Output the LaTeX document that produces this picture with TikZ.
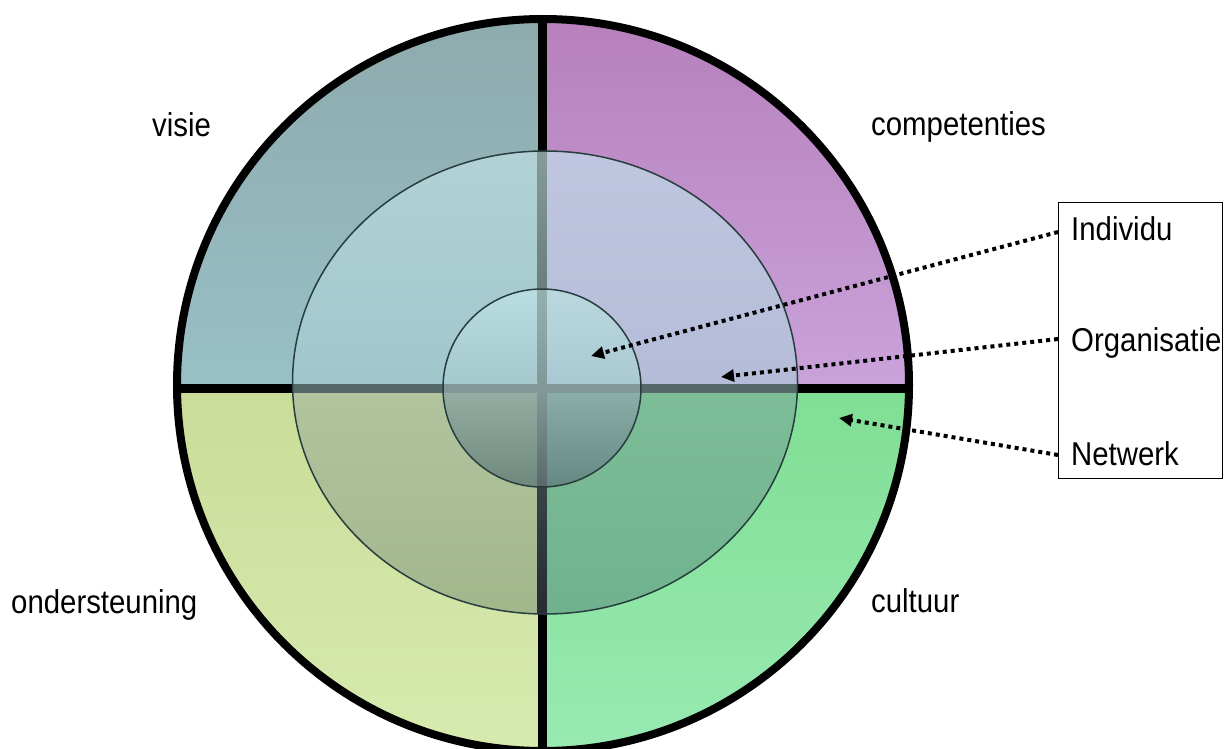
\documentclass[tikz,border=0pt]{standalone}
\usepackage{fontspec}
\setmainfont{Liberation Sans}[FakeStretch=0.89]
\usetikzlibrary{arrows.meta}
% outer ring colours
\definecolor{oAt}{RGB}{142,170,172}\definecolor{oAb}{RGB}{152,192,198}
\definecolor{oBt}{RGB}{182,128,188}\definecolor{oBb}{RGB}{202,162,218}
\definecolor{oCt}{RGB}{202,220,152}\definecolor{oCb}{RGB}{215,235,175}
\definecolor{oDt}{RGB}{128,222,148}\definecolor{oDb}{RGB}{152,234,178}
% middle ring colours
\definecolor{mAt}{RGB}{178,210,213}\definecolor{mAb}{RGB}{160,198,204}
\definecolor{mBt}{RGB}{192,198,224}\definecolor{mBb}{RGB}{180,188,215}
\definecolor{mCt}{RGB}{178,196,158}\definecolor{mCb}{RGB}{162,182,140}
\definecolor{mDt}{RGB}{125,190,152}\definecolor{mDb}{RGB}{112,178,142}
% inner colours
\definecolor{iAt}{RGB}{186,221,226}\definecolor{iAb}{RGB}{165,200,205}
\definecolor{iBt}{RGB}{186,216,222}\definecolor{iBb}{RGB}{170,200,210}
\definecolor{iCt}{RGB}{150,175,165}\definecolor{iCb}{RGB}{110,135,125}
\definecolor{iDt}{RGB}{140,175,170}\definecolor{iDb}{RGB}{100,135,130}
% cross lines in rings
\definecolor{lmt}{RGB}{135,155,155}\definecolor{lmm}{RGB}{85,105,105}
\definecolor{lmb}{RGB}{38,42,52}
\definecolor{lit}{RGB}{150,176,178}\definecolor{lim}{RGB}{128,152,152}
\definecolor{lib}{RGB}{88,102,106}
\definecolor{ringline}{RGB}{40,62,62}
\tikzset{
  lbl/.style={font=\fontsize{33}{38}\selectfont, inner sep=0pt},
  ptr/.style={line width=4pt, dash pattern=on 4pt off 4pt, -{Triangle[length=13pt,width=12pt]}},
  ringedge/.style={draw=ringline, line width=1.5pt}
}
\begin{document}
\begin{tikzpicture}[x=1pt,y=1pt]
\useasboundingbox (0,0) rectangle (1224,-749);
% outer quadrants
\begin{scope}
\clip (543,-385) circle (366pt);
\shade[top color=oAt, bottom color=oAb] (170,-15) rectangle (542,-388);
\shade[top color=oBt, bottom color=oBb] (542,-15) rectangle (920,-388);
\shade[top color=oCt, bottom color=oCb] (170,-388) rectangle (542,-755);
\shade[top color=oDt, bottom color=oDb] (542,-388) rectangle (920,-755);
\draw[line width=9pt] (542,-10) -- (542,-760);
\draw[line width=9pt] (170,-388) -- (920,-388);
\end{scope}
% middle ring
\begin{scope}
\clip (545,-382.5) ellipse [x radius=252.5pt, y radius=231.5pt];
\shade[top color=mAt, bottom color=mAb] (290,-150) rectangle (542,-388);
\shade[top color=mBt, bottom color=mBb] (542,-150) rectangle (800,-388);
\shade[top color=mCt, bottom color=mCb] (290,-388) rectangle (542,-616);
\shade[top color=mDt, bottom color=mDb] (542,-388) rectangle (800,-616);
\shade[top color=lmt, bottom color=lmm] (537.5,-150) rectangle (546.5,-383.5);
\shade[top color=lmm!80!black, bottom color=lmb] (537.5,-392.5) rectangle (546.5,-616);
\fill[lmm] (290,-383.5) rectangle (800,-392.5);
\end{scope}
% inner circle
\begin{scope}
\clip (542,-388) circle (99pt);
\shade[top color=iAt, bottom color=iAb] (440,-288) rectangle (542,-388);
\shade[top color=iBt, bottom color=iBb] (542,-288) rectangle (645,-388);
\shade[top color=iCt, bottom color=iCb] (440,-388) rectangle (542,-490);
\shade[top color=iDt, bottom color=iDb] (542,-388) rectangle (645,-490);
\shade[top color=lit, bottom color=lim] (537.5,-288) rectangle (546.5,-383.5);
\shade[top color=lim, bottom color=lib] (537.5,-392.5) rectangle (546.5,-490);
\fill[lim] (440,-383.5) rectangle (645,-392.5);
\end{scope}
\draw[ringedge] (545,-382.5) ellipse [x radius=252.5pt, y radius=231.5pt];
\draw[ringedge] (542,-388) circle (99pt);
\draw[line width=8pt] (543,-385) circle (366pt);
% quadrant labels
\node[lbl, anchor=base west] (visie) at (152,-137) {visie};
\node[lbl, anchor=base west] (comp) at (871,-136) {competenties};
\node[lbl, anchor=base west] (onder) at (11,-613) {ondersteuning};
\node[lbl, anchor=base west] (cult) at (871,-612) {cultuur};
% legend box
\node[draw=black, line width=1.2pt, anchor=north west, minimum width=164pt, minimum height=276pt, inner sep=0pt] (box) at (1058,-202) {};
\node[lbl, anchor=base west] (ind) at (1071,-240) {Individu};
\node[lbl, anchor=base west] (org) at (1071,-351) {Organisatie};
\node[lbl, anchor=base west] (net) at (1071,-465) {Netwerk};
% pointers
\coordinate (s1) at (1058,-232);
\coordinate (s2) at (1058,-339);
\coordinate (s3) at (1058,-455);
\coordinate (t1) at (591,-356);
\coordinate (t2) at (721,-377);
\coordinate (t3) at (839,-418);
\draw[ptr] (s1) -- (t1);
\draw[ptr] (s2) -- (t2);
\draw[ptr] (s3) -- (t3);
\end{tikzpicture}
\end{document}
